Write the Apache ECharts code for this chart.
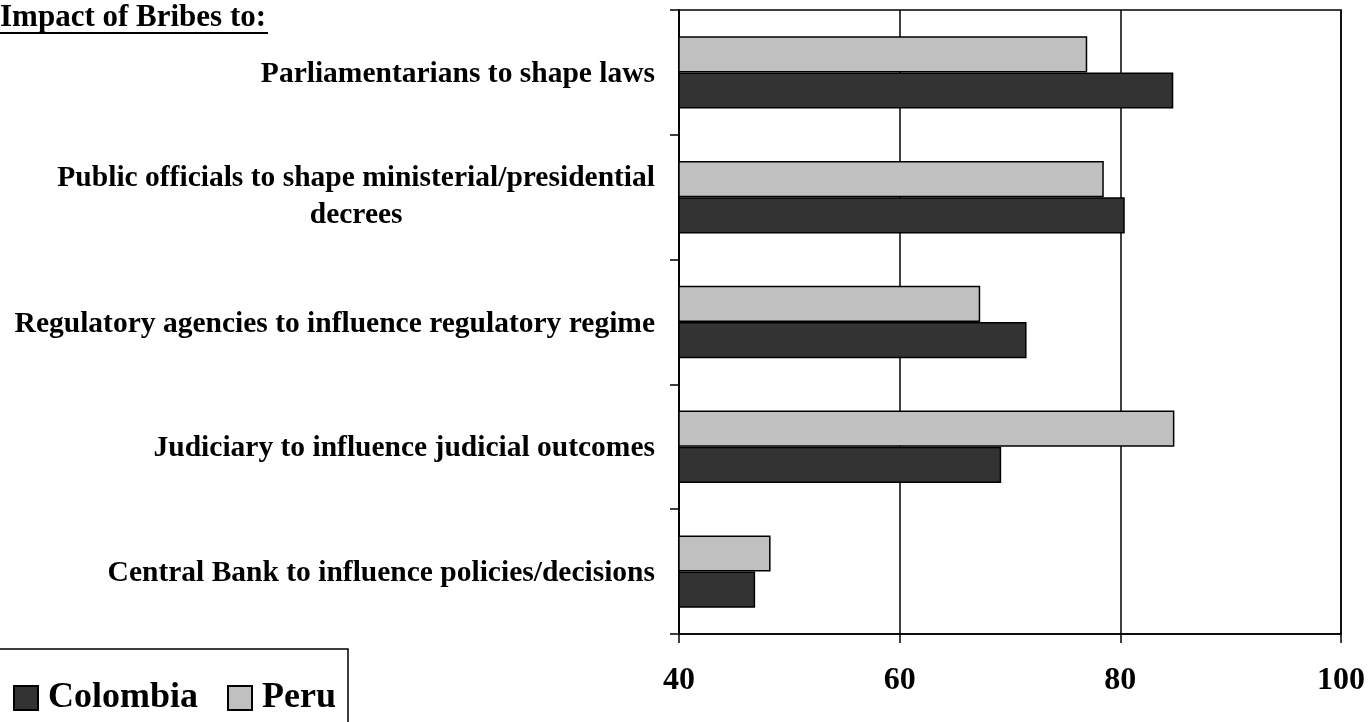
<!DOCTYPE html>
<html>
<head>
<meta charset="utf-8">
<script src="https://cdn.jsdelivr.net/npm/echarts@6/dist/echarts.min.js"></script>
<style>
html,body{margin:0;padding:0;background:#fff;}
#chart{width:1371px;height:722px;}
</style>
</head>
<body>
<div id="chart"></div>
<script>
const titleText = 'Impact of Bribes to:';
const categories = [
  'Parliamentarians to shape laws',
  'Public officials to shape ministerial/presidential\ndecrees',
  'Regulatory agencies to influence regulatory regime',
  'Judiciary to influence judicial outcomes',
  'Central Bank to influence policies/decisions'
];
const seriesNames = ['Colombia', 'Peru'];
const colombia = [84.8, 80.4, 71.5, 69.2, 46.9];
const peru = [77.0, 78.5, 67.3, 84.9, 48.3];
const xTicks = [40, 60, 80, 100];

const FONT = "'Liberation Serif', 'Times New Roman', serif";
const chart = echarts.init(document.getElementById('chart'));
const labelStyle = {fontFamily: FONT, fontWeight: 'bold', fontSize: 29.5, color: '#000', lineHeight: 37};

chart.setOption({
  animation: false,
  backgroundColor: '#fff',
  title: {
    text: titleText, left: 0, top: 1, padding: 0,
    textStyle: {fontFamily: FONT, fontWeight: 'bold', fontSize: 31, color: '#000', lineHeight: 34}
  },
  graphic: [
    {type: 'line', shape: {x1: 0, y1: 33, x2: 268, y2: 33}, style: {stroke: '#000', lineWidth: 2}},
    {type: 'rect', shape: {x: -5, y: 649, width: 353, height: 90}, style: {fill: 'none', stroke: '#000', lineWidth: 1.5}, z: -1}
  ],
  legend: {
    data: seriesNames,
    left: 8, top: 675,
    itemWidth: 24, itemHeight: 24, itemGap: 29,
    icon: 'rect',
    textStyle: {fontFamily: FONT, fontWeight: 'bold', fontSize: 36, color: '#000', lineHeight: 24, padding: [0, 0, 0, 5]}
  },
  grid: {left: 679, right: 30, top: 10, bottom: 88, show: true, borderColor: '#000', borderWidth: 1.5, backgroundColor: 'transparent'},
  xAxis: {
    type: 'value', min: xTicks[0], max: xTicks[xTicks.length - 1], interval: 20,
    axisLine: {show: true, lineStyle: {color: '#000', width: 1.5}},
    axisTick: {show: true, length: 9, lineStyle: {color: '#000', width: 1.5}},
    splitLine: {show: true, lineStyle: {color: '#000', width: 1.5}},
    axisLabel: {margin: 31, fontFamily: FONT, fontWeight: 'bold', fontSize: 32, color: '#000', lineHeight: 32}
  },
  yAxis: {
    type: 'category', inverse: true, data: categories,
    axisLine: {show: true, lineStyle: {color: '#000', width: 1.5}},
    axisTick: {show: true, length: 9, lineStyle: {color: '#000', width: 1.5}},
    axisLabel: {
      margin: 24,
      formatter: function (v) {
        const lines = v.split('\n');
        if (lines.length > 1) return lines.map(l => '{c|' + l + '}').join('\n');
        return '{r|' + v + '}';
      },
      rich: {
        c: Object.assign({align: 'center'}, labelStyle),
        r: Object.assign({}, labelStyle, {padding: [4, 0, 0, 0]})
      }
    }
  },
  series: [
    {name: 'Peru', type: 'bar', data: peru, barGap: '0%', barCategoryGap: '42%',
     itemStyle: {color: '#c0c0c0', borderColor: '#000', borderWidth: 1.5}},
    {name: 'Colombia', type: 'bar', data: colombia, barGap: '0%', barCategoryGap: '42%',
     itemStyle: {color: '#333333', borderColor: '#000', borderWidth: 1.5}}
  ]
});
</script>
</body>
</html>
